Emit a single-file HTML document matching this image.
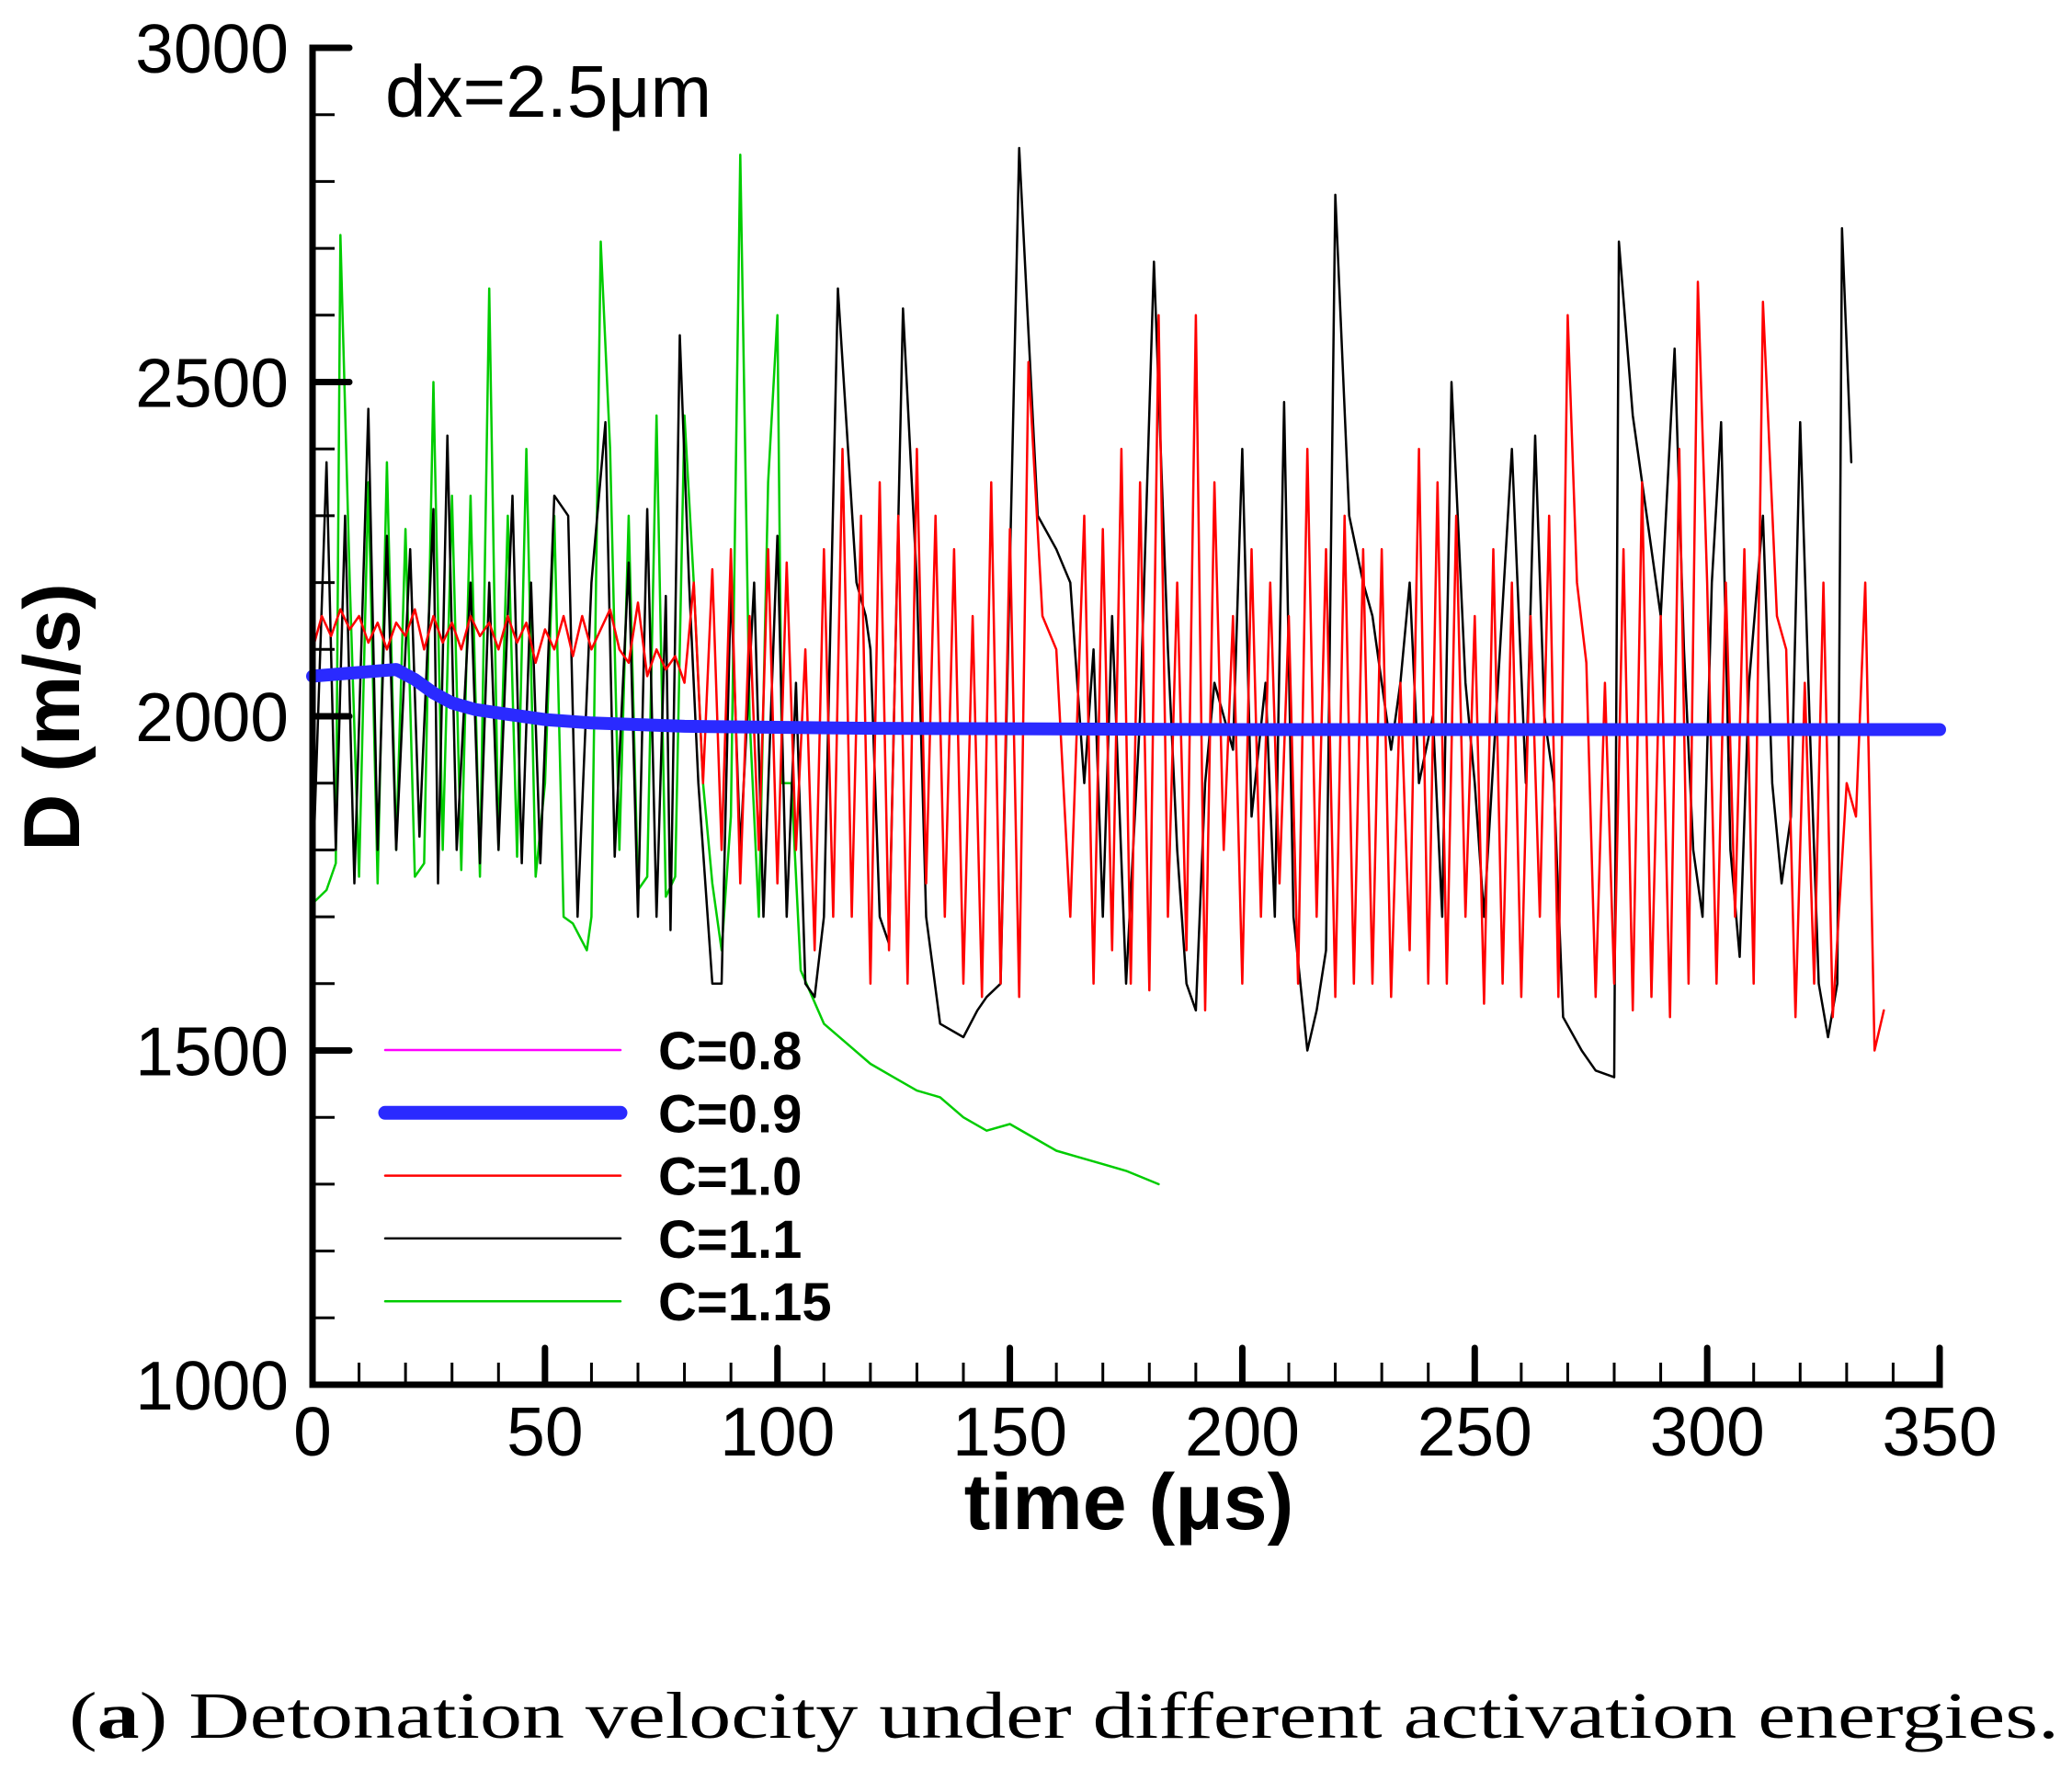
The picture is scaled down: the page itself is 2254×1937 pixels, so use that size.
<!DOCTYPE html>
<html><head><meta charset="utf-8"><style>
html,body{margin:0;padding:0;background:#fff;}
svg{display:block;}
</style></head><body>
<svg id="chart" width="2254" height="1937" viewBox="0 0 2254 1937" xmlns="http://www.w3.org/2000/svg">
<g id="series"></g>
<g id="axes"></g>
<text x="419" y="127" font-family="Liberation Sans, sans-serif" font-size="80">dx=2.5μm</text>
<text x="1228" y="1663" text-anchor="middle" font-family="Liberation Sans, sans-serif" font-weight="bold" font-size="86">time (μs)</text>
<text transform="translate(86,780) rotate(-90)" text-anchor="middle" font-family="Liberation Sans, sans-serif" font-weight="bold" font-size="86">D (m/s)</text>
<g id="legend"></g>
<text x="75" y="1890" font-family="Liberation Serif, serif" font-size="72" textLength="2165" lengthAdjust="spacingAndGlyphs">(<tspan font-weight="bold">a</tspan>) Detonation velocity under different activation energies.</text>
</svg>
<script>
const xTicks=[0,50,100,150,200,250,300,350];
const yTicks=[1000,1500,2000,2500,3000];
const blueT=[0,18,22,26,30,35,40,50,60,80,120,200,350];
const blueV=[2060,2070,2055,2035,2020,2010,2005,1995,1990,1985,1982,1980,1980];
const redT=[0,2,4,6,8,10,12,14,16,18,20,22,24,26,28,30,32,34,36,38,40,42,44,46,48,50,52,54,56,58,60,62,64,66,68,70,72,74,76,78,80,82,84,86,88,90,92,94,96,98,100,102,104,106,108,110,112,114,116,118,120,122,124,126,128,130,132,134,136,138,140,142,144,146,148,150,152,154,157,160,163,166,168,170,172,174,176,178,180,182,184,186,188,190,192,194,196,198,200,202,204,206,208,210,212,214,216,218,220,222,224,226,228,230,232,234,236,238,240,242,244,246,248,250,252,254,256,258,260,262,264,266,268,270,272,274,276,278,280,282,284,286,288,290,292,294,296,298,300,302,304,306,308,310,312,315,317,319,321,323,325,327,330,332,334,336,338];
const redV=[2100,2150,2120,2160,2130,2150,2110,2140,2100,2140,2120,2160,2100,2150,2110,2140,2100,2150,2120,2140,2100,2150,2110,2140,2080,2130,2100,2150,2090,2150,2100,2130,2160,2100,2080,2170,2060,2100,2070,2090,2050,2200,1900,2220,1800,2250,1750,2150,1800,2250,1750,2230,1800,2100,1650,2250,1700,2400,1700,2300,1600,2350,1650,2300,1600,2400,1750,2300,1700,2250,1600,2150,1580,2350,1600,2280,1580,2530,2150,2100,1700,2300,1600,2280,1650,2400,1600,2350,1590,2600,1700,2200,1650,2600,1560,2350,1800,2150,1600,2250,1700,2200,1750,2150,1600,2400,1700,2250,1580,2300,1600,2250,1600,2250,1580,2050,1650,2400,1600,2350,1600,2300,1700,2150,1570,2250,1600,2200,1580,2150,1700,2300,1580,2600,2200,2080,1580,2050,1600,2250,1560,2350,1580,2150,1550,2400,1600,2650,2200,1600,2200,1700,2250,1600,2620,2150,2100,1550,2050,1600,2200,1550,1900,1850,2200,1500,1560];
const blackT=[0,3,5,7,9,12,14,16,18,21,23,26,27,29,31,34,36,38,40,43,45,47,49,52,55,57,60,63,65,68,70,72,74,76,77,79,81,83,86,88,90,92,95,97,100,102,104,106,108,110,113,117,119,120,122,124,127,130,132,135,140,143,145,148,152,156,160,163,166,168,170,172,175,178,181,184,186,188,190,192,194,196,198,200,202,205,207,209,211,214,216,218,220,223,226,228,230,232,234,236,238,241,243,245,248,250,252,255,258,261,263,265,267,269,273,276,280,281,284,287,290,293,295,297,299,301,303,305,307,309,312,314,316,318,320,322,324,326,328,329,331];
const blackV=[1750,2380,1800,2300,1750,2460,1800,2270,1800,2250,1820,2310,1750,2420,1800,2200,1780,2200,1800,2330,1780,2200,1780,2330,2300,1700,2200,2440,1790,2230,1700,2310,1700,2180,1680,2570,2200,1900,1600,1600,2200,1800,2200,1700,2270,1700,2050,1600,1580,1700,2640,2200,2150,2100,1700,1660,2610,2200,1700,1540,1520,1560,1580,1600,2850,2300,2250,2200,1900,2100,1700,2150,1600,2000,2680,2100,1800,1600,1560,1900,2050,2000,1950,2400,1850,2050,1700,2470,1700,1500,1560,1650,2780,2300,2200,2150,2050,1950,2050,2200,1900,2000,1700,2500,2050,1900,1700,2050,2400,1900,2420,2000,1900,1550,1500,1470,1460,2710,2450,2300,2150,2550,2100,1800,1700,2200,2440,1800,1640,2050,2300,1900,1750,1850,2440,2000,1600,1520,1600,2730,2380];
const greenT=[0,3,5,6,8,10,12,14,16,18,20,22,24,26,28,30,32,34,36,38,40,42,44,46,48,50,52,54,56,59,60,62,64,66,68,70,72,74,76,78,80,82,84,86,88,90,92,94,96,98,100,101,103,105,110,115,120,125,130,135,140,145,150,155,160,165,170,175,182];
const greenV=[1720,1740,1780,2720,2200,1760,2350,1750,2380,1800,2280,1760,1780,2500,1800,2330,1770,2330,1760,2640,1800,2300,1790,2400,1760,1900,2300,1700,1690,1650,1700,2710,2400,1800,2300,1740,1760,2450,1730,1760,2450,2200,1900,1750,1650,1850,2840,2000,1700,2350,2600,1900,1900,1620,1540,1510,1480,1460,1440,1430,1400,1380,1390,1370,1350,1340,1330,1320,1300];
const legendLabels=["C=0.8","C=0.9","C=1.0","C=1.1","C=1.15"];

const NS="http://www.w3.org/2000/svg";
const X0=340,X1=2110,Y0=1506,Y1=52;
function sx(t){return X0+(t-0)/(350-0)*(X1-X0);}
function sy(v){return Y0-(v-1000)/(3000-1000)*(Y0-Y1);}
function mk(tag,attrs,parent){const e=document.createElementNS(NS,tag);for(const k in attrs)e.setAttribute(k,attrs[k]);parent.appendChild(e);return e;}

const series=document.getElementById('series');
function drawLine(T,V,color,w,name){
  let d='';
  for(let i=0;i<T.length;i++){d+=(i?'L':'M')+sx(T[i]).toFixed(1)+','+sy(V[i]).toFixed(1);}
  const p=mk('path',{d:d,fill:'none',stroke:color,'stroke-width':w,'stroke-linejoin':'round','stroke-linecap':'round'},series);
  
  
}
drawLine(greenT,greenV,'#00cc00',2.5,'series-c-1-15');
drawLine(blackT,blackV,'#000000',2.5,'series-c-1-1');
drawLine(redT,redV,'#ff0000',2.5,'series-c-1-0');
drawLine(blueT,blueV,'#2a2aff',14,'series-c-0-9');

const axes=document.getElementById('axes');
const ax=mk('path',{d:`M${X0+20},${Y1}L${X0},${Y1}L${X0},${Y0}L${X1},${Y0}L${X1},${Y0-40}`,fill:'none',stroke:'#000','stroke-width':7,'stroke-linecap':'round','stroke-linejoin':'miter'},axes);


for(let t=0;t<=350;t+=10){
  const major=xTicks.indexOf(t)>=0;
  const l=mk('line',{x1:sx(t),x2:sx(t),y1:Y0,y2:Y0-(major?40:24),stroke:'#000','stroke-width':major?7:3,'stroke-linecap':major?'round':'butt'},axes);
  
  
}
for(let v=1000;v<=3000;v+=100){
  const major=yTicks.indexOf(v)>=0;
  const l=mk('line',{x1:X0,x2:X0+(major?40:24),y1:sy(v),y2:sy(v),stroke:'#000','stroke-width':major?7:3,'stroke-linecap':major?'round':'butt'},axes);
  
  
}
xTicks.forEach(t=>{
  const e=mk('text',{x:sx(t),y:1583,'text-anchor':'middle','font-family':'Liberation Sans, sans-serif','font-size':75},axes);
  e.textContent=String(t);
  
  
});
yTicks.forEach(v=>{
  const e=mk('text',{x:314,y:sy(v)+27,'text-anchor':'end','font-family':'Liberation Sans, sans-serif','font-size':75},axes);
  e.textContent=String(v);
  
  
});

const legend=document.getElementById('legend');
const lc=['#ff00ff','#2a2aff','#ff0000','#000000','#00cc00'];
const lw=[2.5,15,2.5,2.5,2.5];
legendLabels.forEach((lab,i)=>{
  const y=1142+i*68.3;
  const l=mk('line',{x1:419,x2:675,y1:y,y2:y,stroke:lc[i],'stroke-width':lw[i],'stroke-linecap':'round'},legend);
  
  
  const t=mk('text',{x:716,y:y+21,'font-family':'Liberation Sans, sans-serif','font-weight':'bold','font-size':58},legend);
  t.textContent=lab;
  
  
});
</script>
</body></html>
